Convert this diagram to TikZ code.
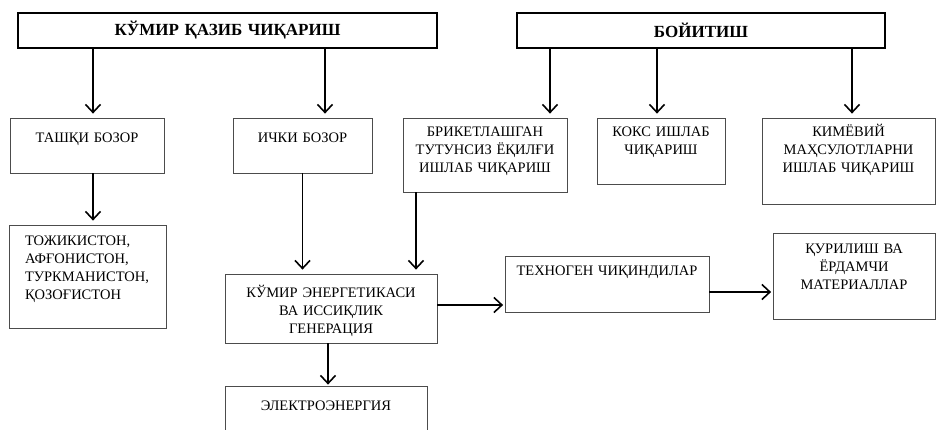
\documentclass[tikz,border=0pt]{standalone}
\usepackage{fontspec}
\setmainfont{Liberation Serif}
\usetikzlibrary{arrows.meta}
\tikzstyle{arrow} = [line width=1.6pt, -{Straight Barb[length=8pt,width=15pt]}, shorten >=4pt]
\tikzstyle{header} = [rectangle, draw=black, line width=1.8pt, minimum height=35pt, inner sep=0pt, align=center, font=\fontsize{17}{20}\selectfont\bfseries]
\tikzstyle{box} = [rectangle, draw=black!70, line width=0.8pt, inner xsep=0pt, inner ysep=0pt, align=center]

\begin{document}
\begin{tikzpicture}[x=1pt, y=1pt, font=\fontsize{14.5}{18}\selectfont]
\useasboundingbox (0,0) rectangle (936,-430);
% Placement of nodes
\node (mining) [header, text width=419pt] at (227.5,-30.5) {КЎМИР ҚАЗИБ ЧИҚАРИШ};
\node (enrich) [header, text width=368pt] at (701,-30.5) {БОЙИТИШ};

\node (outer) [box, text width=154pt, text height=24.5pt, text depth=30.5pt] at (87,-145.5) {ТАШҚИ БОЗОР};
\node (inner) [box, right of=outer, node distance=215.5pt, text width=139pt, text height=24.5pt, text depth=30.5pt] {ИЧКИ БОЗОР};
\node (briq) [box, text width=164pt, text height=19pt, text depth=55pt] at (485,-155) {БРИКЕТЛАШГАН\\ТУТУНСИЗ ЁҚИЛҒИ\\ИШЛАБ ЧИҚАРИШ};
\node (coke) [box, text width=128pt, text height=19pt, text depth=47pt] at (661,-151) {КОКС ИШЛАБ\\ЧИҚАРИШ};
\node (chem) [box, text width=173pt, text height=19pt, text depth=67pt] at (848.5,-161) {КИМЁВИЙ\\МАҲСУЛОТЛАРНИ\\ИШЛАБ ЧИҚАРИШ};

\node (countries) [box, below of=outer, node distance=131pt, xshift=0.5pt, text width=125pt, inner xsep=16pt, align=left, text height=20pt, text depth=83pt] {ТОЖИКИСТОН,\\АФҒОНИСТОН,\\ТУРКМАНИСТОН,\\ҚОЗОҒИСТОН};
\node (energy) [box, text width=212pt, text height=23pt, text depth=46pt] at (331,-308.5) {КЎМИР ЭНЕРГЕТИКАСИ\\ВА ИССИҚЛИК\\ГЕНЕРАЦИЯ};
\node (electro) [box, text width=202pt, text height=24pt, text depth=40pt] at (326,-418) {ЭЛЕКТРОЭНЕРГИЯ};
\node (techno) [box, text width=204pt, text height=19pt, text depth=37pt] at (607,-284) {ТЕХНОГЕН ЧИҚИНДИЛАР};
\node (building) [box, text width=162pt, text height=20pt, text depth=66pt] at (854,-276) {ҚУРИЛИШ ВА\\ЁРДАМЧИ\\МАТЕРИАЛЛАР};

% Placement of edges
\draw [arrow] ([xshift=6pt]outer.north |- mining.south) -- ([xshift=6pt]outer.north);
\draw [arrow] ([xshift=22.5pt]inner.north |- mining.south) -- ([xshift=22.5pt]inner.north);
\draw [arrow] ([xshift=65pt]briq.north |- enrich.south) -- ([xshift=65pt]briq.north);
\draw [arrow] ([xshift=-4pt]coke.north |- enrich.south) -- ([xshift=-4pt]coke.north);
\draw [arrow] ([xshift=3.5pt]chem.north |- enrich.south) -- ([xshift=3.5pt]chem.north);

\draw [arrow] ([xshift=6pt]outer.south) -- ([xshift=6pt]outer.south |- countries.north);
\draw [arrow] (inner.south) -- (inner.south |- energy.north);
\draw [arrow] ([xshift=-69pt]briq.south) -- ([xshift=-69pt]briq.south |- energy.north);
\draw [arrow, shorten >=1pt] ([xshift=-3pt]energy.south) -- ([xshift=-3pt]energy.south |- electro.north);

% waste branch
\draw [arrow, shorten >=1.5pt] ([yshift=3.5pt]energy.east) -- ([yshift=3.5pt]energy.east -| techno.west);
\draw [arrow, shorten >=1.5pt] ([yshift=-8pt]techno.east) -- ([yshift=-8pt]techno.east -| building.west);
\end{tikzpicture}
\end{document}
